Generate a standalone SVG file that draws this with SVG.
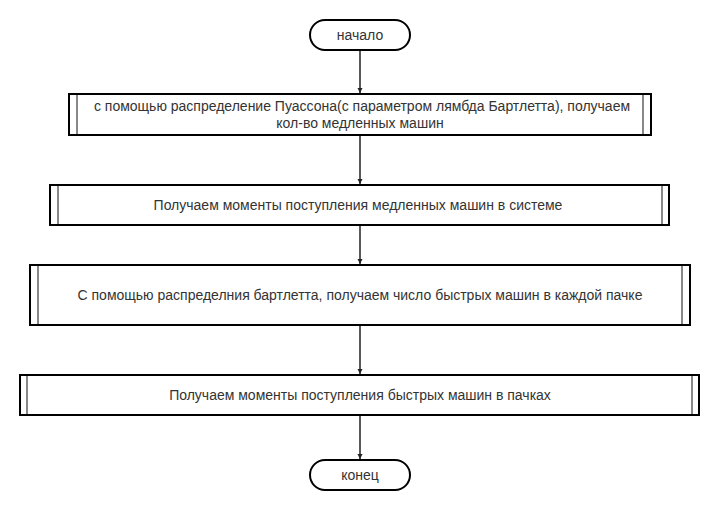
<svg xmlns="http://www.w3.org/2000/svg" width="720" height="510" viewBox="0 0 720 510">
<defs>
<style>
.t{font-family:"Liberation Sans",Arial,sans-serif;font-size:14px;fill:#333;text-anchor:middle;dominant-baseline:central}
.box{fill:#fff;stroke:#000;stroke-width:2}
.in{stroke:#888;stroke-width:2}
.term{fill:#fff;stroke:#000;stroke-width:2}
.c{stroke:#222;stroke-width:1.5;fill:none;marker-end:url(#ah)}
</style>
<marker id="ah" markerWidth="6" markerHeight="6" refX="5" refY="3" orient="auto" markerUnits="userSpaceOnUse">
<path d="M0,0.5 L5,3 L0,5.5 Z" fill="#222"/>
</marker>
</defs>
<rect width="720" height="510" fill="#fff"/>
<g id="connectors">
<path class="c" d="M360,50 V93"/>
<path class="c" d="M360,135 V184"/>
<path class="c" d="M360,225 V264"/>
<path class="c" d="M360,325 V374"/>
<path class="c" d="M360,415 V459"/>
</g>
<g id="start">
<rect class="term" x="310" y="20" width="100" height="30" rx="15"/>
<text class="t" x="360" y="35">начало</text>
</g>
<g id="step1">
<rect class="box" x="69" y="94" width="582" height="41"/>
<line class="in" x1="77" y1="95" x2="77" y2="134"/>
<line class="in" x1="643" y1="95" x2="643" y2="134"/>
<text class="t" x="362" y="106">с помощью распределение Пуассона(с параметром лямбда Бартлетта), получаем</text>
<text class="t" x="360" y="123">кол-во медленных машин</text>
</g>
<g id="step2">
<rect class="box" x="50" y="185" width="619" height="40"/>
<line class="in" x1="58" y1="186" x2="58" y2="224"/>
<line class="in" x1="662" y1="186" x2="662" y2="224"/>
<text class="t" x="358" y="205">Получаем моменты поступления медленных машин в системе</text>
</g>
<g id="step3">
<rect class="box" x="30" y="265" width="660" height="60"/>
<line class="in" x1="38" y1="266" x2="38" y2="324"/>
<line class="in" x1="682" y1="266" x2="682" y2="324"/>
<text class="t" x="360" y="295">С помощью распределния бартлетта, получаем число быстрых машин в каждой пачке</text>
</g>
<g id="step4">
<rect class="box" x="20" y="375" width="679" height="40"/>
<line class="in" x1="27" y1="376" x2="27" y2="414"/>
<line class="in" x1="692" y1="376" x2="692" y2="414"/>
<text class="t" x="360" y="395">Получаем моменты поступления быстрых машин в пачках</text>
</g>
<g id="end">
<rect class="term" x="310" y="460" width="100" height="30" rx="15"/>
<text class="t" x="360" y="475">конец</text>
</g>
</svg>
